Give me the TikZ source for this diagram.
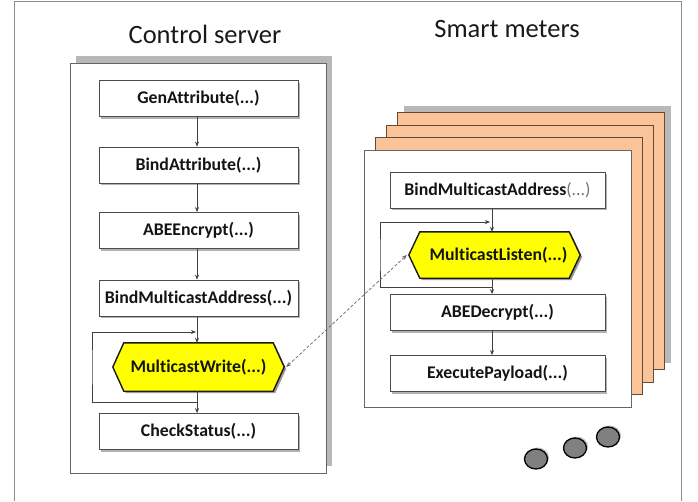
\documentclass[tikz,border=0pt]{standalone}
\usepackage{fontspec}
\setmainfont{Carlito}[Ligatures=NoCommon]
\usetikzlibrary{arrows.meta,shadows,calc,shapes.geometric}
\definecolor{orangel}{RGB}{250,196,152}
\definecolor{orangeb}{RGB}{100,75,55}
\definecolor{hexyellow}{RGB}{255,255,0}
\pgfdeclarelayer{bg}
\pgfdeclarelayer{hexl}
\pgfsetlayers{bg,hexl,main}
\newcommand\hexpath[3]{([xshift=#2,yshift=#3]#1.west) -- ([xshift=11pt+#2,yshift=#3]#1.north west) -- ([xshift=-11pt+#2,yshift=#3]#1.north east) -- ([xshift=#2,yshift=#3]#1.east) -- ([xshift=-11pt+#2,yshift=#3]#1.south east) -- ([xshift=11pt+#2,yshift=#3]#1.south west) -- cycle}
\tikzset{
 lbl/.style={font=\fontsize{17.8}{22}\selectfont\bfseries, text=black!92},
 boxnode/.style={lbl, draw=black!70, line width=0.8pt, fill=white, minimum height=36pt, inner sep=1pt,
   drop shadow={shadow xshift=2pt, shadow yshift=-2pt, opacity=0.3, fill=black}},
 hexnode/.style={lbl, minimum height=48pt, minimum width=171pt, inner sep=0pt},
 hexfill/.style={fill=hexyellow, draw=black!90, line width=1.4pt},
 hexshadow/.style={fill=black, opacity=0.4},
 panel/.style={draw=black!60, line width=0.8pt, fill=white},
 layerbox/.style={draw=orangeb, line width=0.8pt, fill=orangel, minimum width=267pt, minimum height=257pt},
 conn/.style={draw=black!75, line width=0.7pt, -{Stealth[length=5pt,width=4pt]}},
 dconn/.style={draw=black!60, line width=0.7pt, dash pattern=on 3pt off 2pt, {Stealth[length=5pt,width=4pt]}-{Stealth[length=5pt,width=4pt]}},
 dot/.style={ellipse, draw=black, line width=1.3pt, fill=gray, minimum width=23pt, minimum height=20pt, inner sep=0pt,
   general shadow={shadow xshift=1.5pt, shadow yshift=1.5pt, fill=black, opacity=0.25}},
 title/.style={font=\fontsize{26.5}{30}\selectfont, text=black!90},
}
\begin{document}
\begin{tikzpicture}[x=1pt,y=-1pt]
\useasboundingbox (0,0) rectangle (698,501);
\begin{pgfonlayer}{bg}
\draw[draw=black!45, line width=1pt] (14,501) -- (14,1.5) -- (681,1.5) -- (681,501);
\node[panel, minimum width=256pt, minimum height=410pt,
  general shadow={shadow xshift=6pt, shadow yshift=7pt, fill=black!28}] (cs) at (198,268) {};
\node[layerbox, general shadow={shadow xshift=7pt, shadow yshift=7pt, fill=black!28}] (l3) at (530.5,241) {};
\node[layerbox] (l2) at (519.5,253.5) {};
\node[layerbox] (l1) at (508.5,266) {};
\node[panel, minimum width=267pt, minimum height=257pt] (sm) at (497.5,278.5) {};
\end{pgfonlayer}

\node[title] (t1) at (205,34) {Control server};
\node[title] (t2) at (507,29) {Smart meters};

% control server
\node[boxnode, minimum width=199pt] (ga) at (198.5,98.5) {GenAttribute(...)};
\node[boxnode, minimum width=199pt] (ba) at (198.5,165) {BindAttribute(...)};
\node[boxnode, minimum width=199pt] (ae) at (198.5,230.5) {ABEEncrypt(...)};
\node[boxnode, minimum width=199pt] (bm) at (198.5,298) {BindMulticastAddress(...)};
\node[hexnode] (mw) at (198.5,367) {MulticastWrite(...)};
\node[boxnode, minimum width=199pt] (cs2) at (198.5,431.5) {CheckStatus(...)};

% smart meter
\node[boxnode, minimum width=215pt] (sb) at (497.5,190) {BindMulticastAddress\textcolor{black!55}{\mdseries(...)}};
\node[hexnode, minimum height=46pt] (ml) at (494.5,255) {\hspace*{8pt}MulticastListen(...)};
\node[boxnode, minimum width=215pt] (ad) at (497.5,312.5) {ABEDecrypt(...)};
\node[boxnode, minimum width=215pt] (ep) at (497.5,373.5) {ExecutePayload(...)};

\begin{pgfonlayer}{hexl}
\fill[hexshadow] \hexpath{mw}{2pt}{-2pt};
\path[hexfill] \hexpath{mw}{0pt}{0pt};
\fill[hexshadow] \hexpath{ml}{2pt}{-2pt};
\path[hexfill] \hexpath{ml}{0pt}{0pt};
\end{pgfonlayer}

\coordinate (sp1) at (197,0);
\coordinate (sp2) at (492,0);

\draw[conn] (ga.south -| sp1) -- (ba.north -| sp1);
\draw[conn] (ba.south -| sp1) -- (ae.north -| sp1);
\draw[conn] (ae.south -| sp1) -- (bm.north -| sp1);
\draw[conn] (bm.south -| sp1) -- (mw.north -| sp1);
\draw[conn] (mw.south -| sp1) -- (cs2.north -| sp1);
\coordinate (wb) at (197,402);
\coordinate (wl) at (92,367);
\coordinate (wt) at (196,332);
\draw[conn] (wb) -| (wl) |- (wt);

\draw[conn] (sb.south -| sp2) -- (ml.north -| sp2);
\draw[conn] (ml.south -| sp2) -- (ad.north -| sp2);
\draw[conn] (ad.south -| sp2) -- (ep.north -| sp2);
\coordinate (lb) at (492,287);
\coordinate (ll) at (380,255);
\coordinate (lt) at (490,222);
\draw[conn] (lb) -| (ll) |- (lt);

\draw[dconn] ([xshift=2pt]mw.east) -- ([xshift=-2pt]ml.west);

\node[dot] (d1) at (536,459) {};
\node[dot] (d2) at (575,448) {};
\node[dot] (d3) at (608,437) {};
\end{tikzpicture}
\end{document}
